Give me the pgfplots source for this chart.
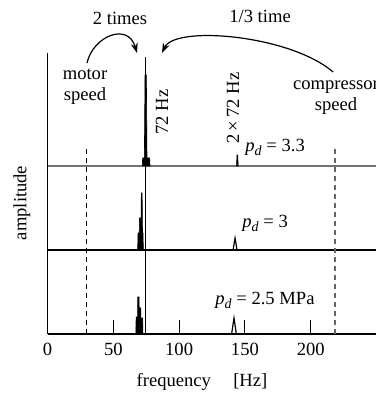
\documentclass[border=0pt]{standalone}
\usepackage{fontspec}
\setmainfont{Liberation Serif}
\usepackage{pgfplots}
\pgfplotsset{compat=1.18}
\usetikzlibrary{arrows.meta}
\newcommand\fs{\fontsize{9.3}{10.5}\selectfont}
\newcommand\pd{\textit{p}\raisebox{-0.45ex}{\fontsize{7}{7}\selectfont\textit{d}}}
\begin{document}
\begin{tikzpicture}[font=\fs]
\begin{axis}[
  x=0.658pt, y=0.5pt,
  xmin=0, xmax=250, ymin=0, ymax=281,
  axis x line*=bottom, axis y line*=left,
  axis line style={line width=0.6pt, black},
  xtick={0,50,100,150,200}, ytick=\empty,
  tick align=inside, major tick length=7pt,
  tick style={black, line width=0.5pt},
  xticklabel style={font=\fs, yshift=-1pt},
  /pgf/number format/assume math mode=true,
  clip=false,
]
% baselines
\addplot[black!55, line width=0.6pt] coordinates {(0,168) (250,168)};
\addplot[black, line width=0.6pt] coordinates {(0,84) (250,84)};
% dashed speed lines
\addplot[black, line width=0.5pt, dash pattern=on 2.5pt off 2pt] coordinates {(30,0) (30,186)};
\addplot[black!60, line width=0.6pt, dash pattern=on 2.5pt off 2pt] coordinates {(218.5,0) (218.5,186)};
% 72 Hz marker line
\addplot[black, line width=0.5pt] coordinates {(74.8,0) (74.8,277)};
% top spectrum (p_d = 3.3), baseline 168
\addplot[black, fill=black, line width=0.3pt] coordinates {(72.0,168) (72.3,176) (77.6,176) (77.9,168)} -- cycle;
\addplot[black, fill=black, line width=0.3pt] coordinates {(73.6,176) (74.1,259) (75.1,259) (75.6,176)} -- cycle;
\addplot[black, fill=black, line width=0.3pt] coordinates {(143.6,168) (144.0,179) (144.5,179) (144.9,168)} -- cycle;
% middle spectrum (p_d = 3), baseline 84
\addplot[black, fill=black, line width=0.3pt] coordinates {(68.5,84) (68.8,101) (72.6,101) (72.8,84)} -- cycle;
\addplot[black, fill=black, line width=0.3pt] coordinates {(69.5,84) (69.9,116) (70.8,116) (71.3,84)} -- cycle;
\addplot[black, fill=black, line width=0.3pt] coordinates {(70.9,84) (71.3,141) (71.9,141) (72.3,84)} -- cycle;
\addplot[black, line width=0.6pt] coordinates {(141.0,84) (142.5,96) (144.0,84)};
% bottom spectrum (p_d = 2.5 MPa), baseline 0
\addplot[black, fill=black, line width=0.3pt] coordinates {(67.2,0) (67.3,17) (68.5,17) (68.6,0)} -- cycle;
\addplot[black, fill=black, line width=0.3pt] coordinates {(68.3,0) (68.6,37) (69.6,37) (69.9,0)} -- cycle;
\addplot[black, fill=black, line width=0.3pt] coordinates {(69.7,0) (69.9,26) (70.9,26) (71.1,0)} -- cycle;
\addplot[black, fill=black, line width=0.3pt] coordinates {(70.9,0) (71.1,16) (72.3,16) (72.5,0)} -- cycle;
\addplot[black, line width=0.6pt] coordinates {(139.9,0) (141.7,16) (143.5,0)};
% texts
\node at (axis cs:55.1,316) {2 times};
\node at (axis cs:161.5,318) {1/3 time};
\node[align=center] at (axis cs:28.5,247) {motor\\speed};
\node[align=center] at (axis cs:219.2,236) {compressor\\speed};
\node[rotate=90] at (axis cs:87.0,222) {72 Hz};
\node[rotate=90] at (axis cs:141.0,226) {2\,×\,72 Hz};
\node[anchor=west, inner sep=0pt] at (axis cs:150.1,187) {\pd{} = 3.3};
\node[anchor=west, inner sep=0pt] at (axis cs:147.8,111) {\pd{} = 3};
\node[anchor=west, inner sep=0pt] at (axis cs:127.3,34) {\pd{} = 2.5 MPa};
\node at (axis cs:117.4,-48) {frequency\hspace{1.2em}[Hz]};
\node[rotate=90] at (axis cs:-19.4,131) {amplitude};
% arrows
\draw[line width=0.6pt, -{Stealth[length=5pt, width=3.5pt]}] (axis cs:30.0,271) .. controls (axis cs:34.6,298) and (axis cs:61.2,312) .. (axis cs:68.0,281);
\draw[line width=0.6pt, -{Stealth[length=5pt, width=3.5pt]}] (axis cs:217.0,262) .. controls (axis cs:184.3,299) and (axis cs:96.9,309) .. (axis cs:87.0,281);
\coordinate (bbll) at (axis cs:-36.1,-60);
\coordinate (bbur) at (axis cs:249.6,334);
\end{axis}
\pgfresetboundingbox
\useasboundingbox (bbll) rectangle (bbur);
\end{tikzpicture}
\end{document}
